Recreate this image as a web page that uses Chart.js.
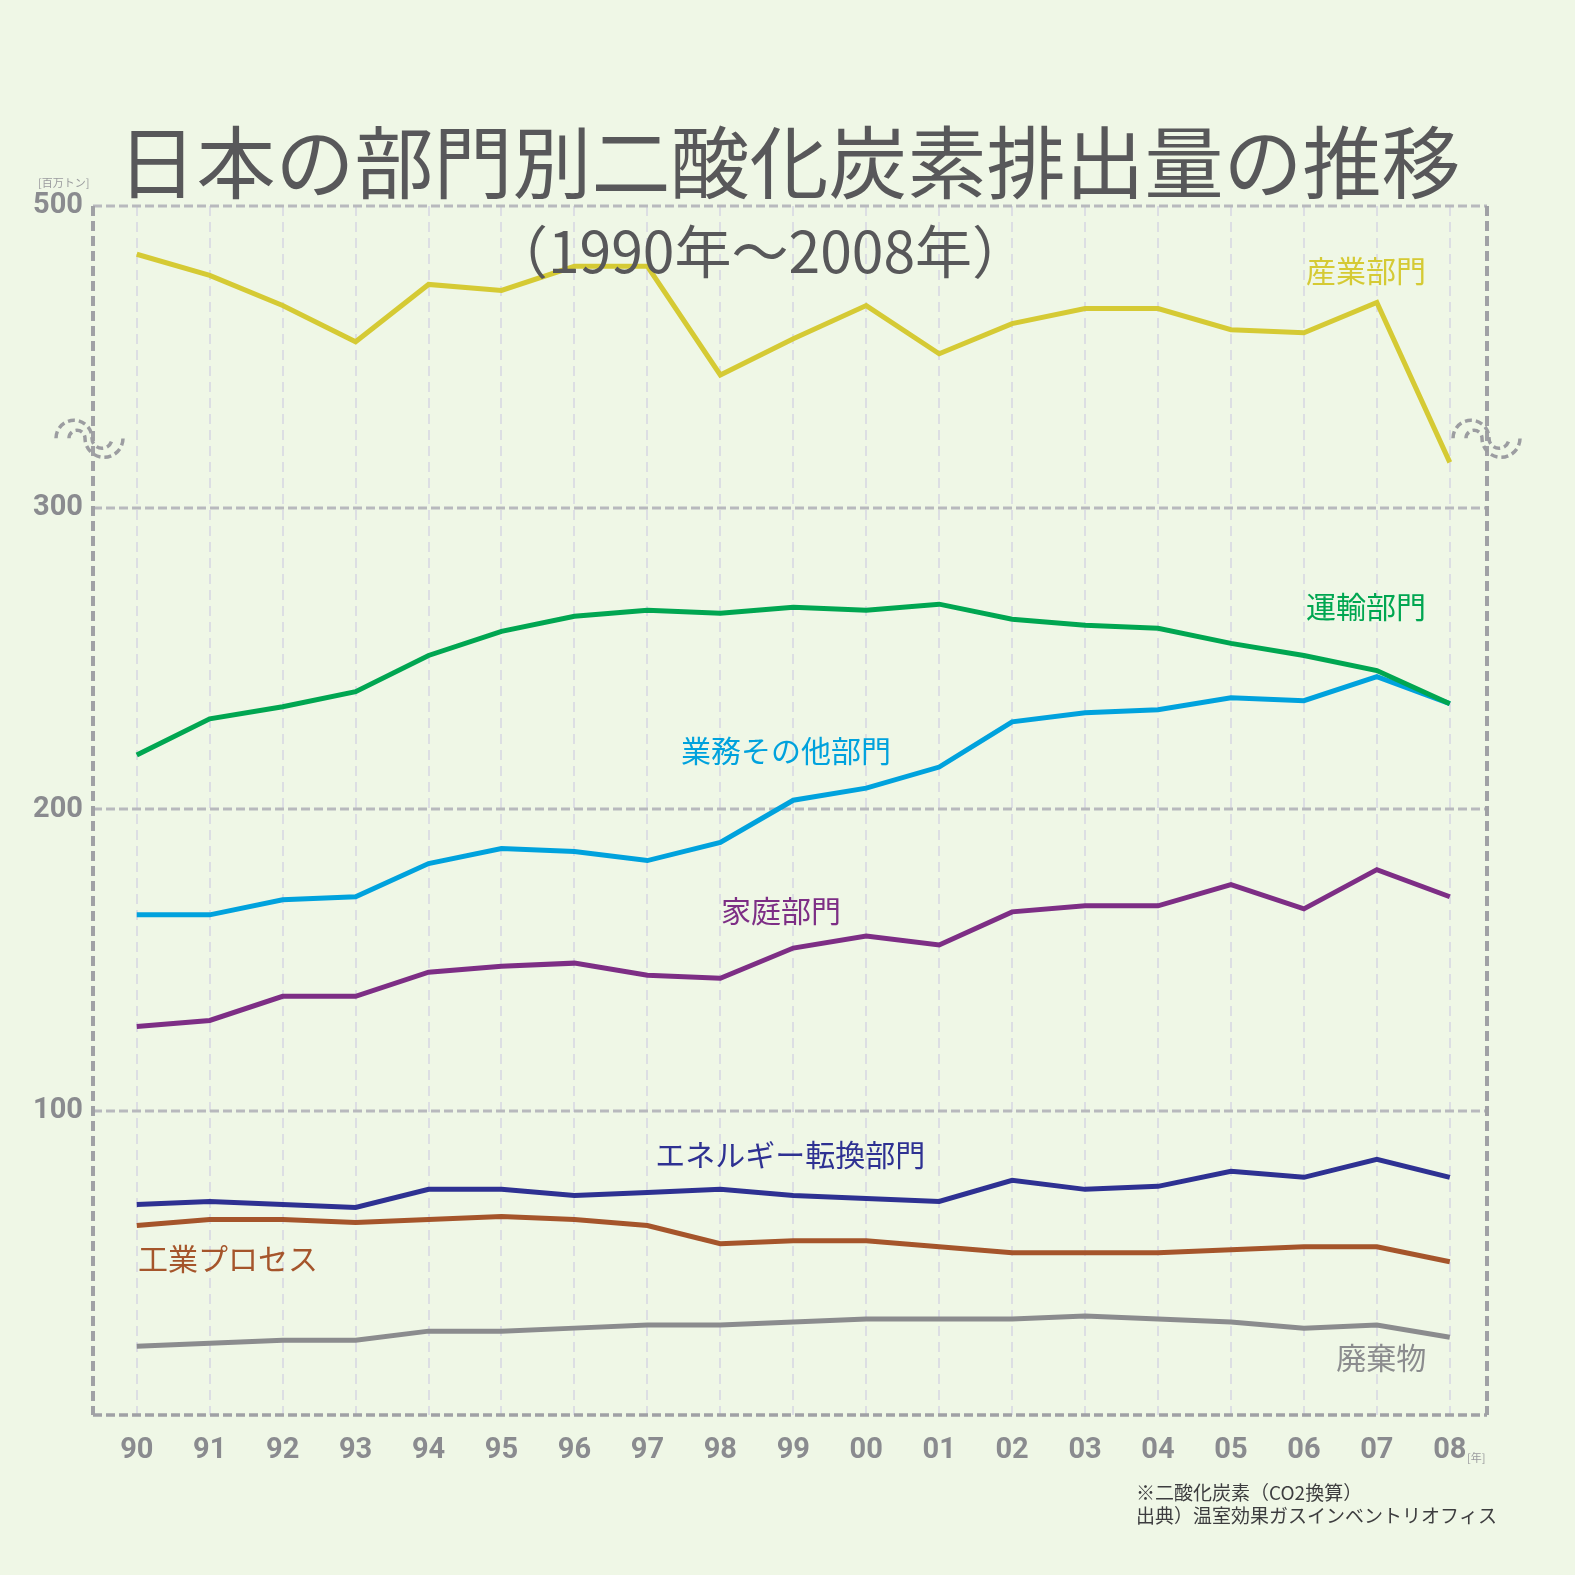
<!DOCTYPE html>
<html lang="ja">
<head>
<meta charset="utf-8">
<title>日本の部門別二酸化炭素排出量の推移</title>
<script src="https://cdn.jsdelivr.net/npm/chart.js@4.4.1/dist/chart.umd.min.js"></script>
<style>
  html, body { margin: 0; padding: 0; background: #eff7e6; }
  #wrap { width: 1575px; height: 1575px; }
</style>
</head>
<body>
<div id="wrap"><canvas id="co2" width="1575" height="1575"></canvas></div>
<script>
    // years on the x axis
    const years = ['90', '91', '92', '93', '94', '95', '96', '97', '98', '99',
                   '00', '01', '02', '03', '04', '05', '06', '07', '08'];

    // million tonnes CO2
    const industry   = [484, 477, 467, 455, 474, 472, 480, 480, 444, 456, 467, 451, 461, 466, 466, 459, 458, 468, 415];
    const transport  = [218, 230, 234, 239, 251, 259, 264, 266, 265, 267, 266, 268, 263, 261, 260, 255, 251, 246, 235];
    const commercial = [165, 165, 170, 171, 182, 187, 186, 183, 189, 203, 207, 214, 229, 232, 233, 237, 236, 244, 235];
    const household  = [128, 130, 138, 138, 146, 148, 149, 145, 144, 154, 158, 155, 166, 168, 168, 175, 167, 180, 171];
    const energy     = [69, 70, 69, 68, 74, 74, 72, 73, 74, 72, 71, 70, 77, 74, 75, 80, 78, 84, 78];
    const process    = [62, 64, 64, 63, 64, 65, 64, 62, 56, 57, 57, 55, 53, 53, 53, 54, 55, 55, 50];
    const waste      = [22, 23, 24, 24, 27, 27, 28, 29, 29, 30, 31, 31, 31, 32, 31, 30, 28, 29, 25];

    // axis is broken between ~323 and ~423, so the top part is drawn 100 lower
    const BREAK_SHIFT = 100;
    const BREAK_AT = 323;
    const yTicks = [100, 200, 300, 400];

    const series = [
      { name: '産業部門', values: industry.map(v => v - BREAK_SHIFT), color: '#d5ca34', at: [16.85, 378.6] },
      { name: '運輸部門', values: transport, color: '#00a651', at: [16.85, 267.2] },
      { name: '業務その他部門', values: commercial, color: '#00a2dd', at: [8.9, 219.4] },
      { name: '家庭部門', values: household, color: '#7d2e85', at: [8.83, 166.3] },
      { name: 'エネルギー転換部門', values: energy, color: '#2e3192', at: [8.96, 85.4] },
      { name: '工業プロセス', values: process, color: '#a5552b', at: [1.25, 51.2] },
      { name: '廃棄物', values: waste, color: '#8b8c8e', at: [17.06, 18.1] }
    ];

    const JP = "'Noto Sans CJK JP', sans-serif";
    const NUM = "Roboto, 'Liberation Sans', sans-serif";

    function dashedLine(ctx, x1, y1, x2, y2) {
      ctx.beginPath();
      ctx.moveTo(x1, y1);
      ctx.lineTo(x2, y2);
      ctx.stroke();
    }

    function squiggle(ctx, cx, cy) {
      ctx.beginPath();
      ctx.arc(cx - 16, cy, 18, Math.PI, 0, false);
      ctx.arc(cx + 12, cy, 10, Math.PI, 0, true);
      ctx.stroke();
      ctx.beginPath();
      ctx.arc(cx - 13, cy, 8, Math.PI, 0, false);
      ctx.arc(cx + 14, cy, 19, Math.PI, 0, true);
      ctx.stroke();
    }

    const frame = {
      id: 'frame',
      beforeDatasetsDraw(chart) {
        const { ctx, chartArea: a, scales: { x, y } } = chart;
        ctx.save();
        ctx.lineCap = 'butt';
        // year lines
        ctx.strokeStyle = '#dcdee3';
        ctx.lineWidth = 2;
        ctx.setLineDash([10, 6]);
        years.forEach((_, i) => {
          const px = Math.round(x.getPixelForValue(i));
          dashedLine(ctx, px, a.top, px, a.bottom);
        });
        // value lines
        ctx.strokeStyle = '#b8b9bd';
        ctx.lineWidth = 3;
        ctx.setLineDash([9, 4]);
        yTicks.forEach(v => {
          const py = Math.round(y.getPixelForValue(v));
          dashedLine(ctx, a.left, py, a.right, py);
        });
        // frame
        ctx.strokeStyle = '#a0a1a5';
        ctx.lineWidth = 4;
        ctx.setLineDash([10, 5]);
        dashedLine(ctx, a.left, a.top, a.left, a.bottom);
        dashedLine(ctx, a.right, a.top, a.right, a.bottom);
        ctx.lineWidth = 3.5;
        ctx.setLineDash([9, 4]);
        dashedLine(ctx, a.left, a.bottom, a.right, a.bottom);
        ctx.restore();
      },
      afterDatasetsDraw(chart) {
        const { ctx, chartArea: a, scales: { x, y } } = chart;
        ctx.save();
        // axis break marks
        ctx.strokeStyle = '#9c9da1';
        ctx.lineWidth = 3.5;
        ctx.setLineDash([7, 4]);
        const by = y.getPixelForValue(BREAK_AT);
        squiggle(ctx, a.left - 3, by);
        squiggle(ctx, a.right, by);
        ctx.setLineDash([]);

        // series names
        ctx.textAlign = 'center';
        ctx.textBaseline = 'middle';
        ctx.font = '30px ' + JP;
        series.forEach(s => {
          ctx.fillStyle = s.color;
          ctx.fillText(s.name, x.getPixelForValue(s.at[0]), y.getPixelForValue(s.at[1]));
        });

        // title
        ctx.fillStyle = '#58585a';
        ctx.font = '79px ' + JP;
        ctx.fillText('日本の部門別二酸化炭素排出量の推移', 789, 163);
        ctx.font = '57px ' + JP;
        ctx.fillText('（1990年～2008年）', 760, 251);

        // units
        ctx.fillStyle = '#9a9b9e';
        ctx.font = '11px ' + JP;
        ctx.textAlign = 'left';
        ctx.fillText('[百万トン]', 38, 183);
        ctx.fillText('[年]', 1467, 1458);

        // notes
        ctx.fillStyle = '#3d3d3f';
        ctx.font = '19px ' + JP;
        ctx.fillText('※二酸化炭素（CO2換算）', 1136, 1493);
        ctx.fillText('出典）温室効果ガスインベントリオフィス', 1136, 1516);
        ctx.restore();
      }
    };

    const ctx = document.getElementById('co2').getContext('2d');
    const data = {
      datasets: series.map(s => ({
        label: s.name,
        data: s.values.map((v, i) => ({ x: i, y: v })),
        borderColor: s.color,
        backgroundColor: s.color,
        borderWidth: 5,
        pointRadius: 0,
        tension: 0,
        fill: false
      }))
    };
    const options = {
      responsive: false,
      animation: false,
      events: [],
      layout: {
        padding: { top: 206, right: 88, bottom: 0, left: 0 }
      },
      plugins: {
        legend: { display: false },
        tooltip: { enabled: false }
      },
      scales: {
        x: {
          type: 'linear',
          min: -0.6,
          max: 18.51,
          afterBuildTicks: scale => { scale.ticks = years.map((_, i) => ({ value: i })); },
          afterFit: scale => { scale.height = 160; },
          grid: { display: false },
          border: { display: false },
          ticks: {
            autoSkip: false,
            maxRotation: 0,
            padding: 10,
            color: '#8a8b8f',
            font: { family: NUM, size: 29, weight: 'bold' },
            callback: v => years[v]
          }
        },
        y: {
          type: 'linear',
          min: -0.8,
          max: 400,
          afterBuildTicks: scale => { scale.ticks = yTicks.map(v => ({ value: v })); },
          afterFit: scale => { scale.width = 93; },
          grid: { display: false },
          border: { display: false },
          ticks: {
            padding: 2,
            color: '#8a8b8f',
            font: { family: NUM, size: 29, weight: 'bold' },
            callback: v => (v === 400 ? String(400 + BREAK_SHIFT) : String(v))
          }
        }
      }
    };
    const co2 = new Chart(ctx, {
      type: 'line',
      data: data,
      options: options,
      plugins: [frame]
    });
</script>
</body>
</html>
